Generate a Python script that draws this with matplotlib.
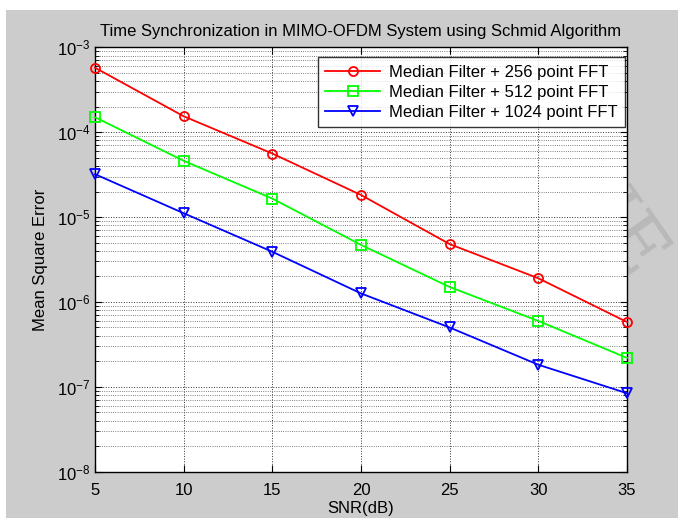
import matplotlib

matplotlib.use("Agg")
import matplotlib.pyplot as plt
from matplotlib.patches import Rectangle
from matplotlib.ticker import LogLocator, NullFormatter

snr_db = [5, 10, 15, 20, 25, 30, 35]
mse_256 = [5.75e-4, 1.54e-4, 5.6e-5, 1.82e-5, 4.8e-6, 1.9e-6, 5.8e-7]
mse_512 = [1.50e-4, 4.6e-5, 1.65e-5, 4.7e-6, 1.50e-6, 5.97e-7, 2.19e-7]
mse_1024 = [3.2e-5, 1.11e-5, 3.9e-6, 1.26e-6, 5.0e-7, 1.82e-7, 8.4e-8]

labels = [
    "Median Filter + 256 point FFT",
    "Median Filter + 512 point FFT",
    "Median Filter + 1024 point FFT",
]
x_ticks = [5, 10, 15, 20, 25, 30, 35]

plt.rcParams.update(
    {
        "font.family": ["Liberation Sans", "DejaVu Sans"],
        "mathtext.fontset": "custom",
        "mathtext.rm": "Liberation Sans",
        "mathtext.it": "Liberation Sans",
        "axes.unicode_minus": False,
    }
)

W, H = 680, 518
fig = plt.figure(figsize=(W / 100, H / 100), dpi=100, facecolor="white")
# grey MATLAB-style figure background, inset from top/left edges
fig.patches.append(
    Rectangle((6 / W, 0), 672 / W, (H - 10) / H, transform=fig.transFigure,
              facecolor="#cccccc", edgecolor="none", zorder=0)
)
# faint watermark on the right border, partly hidden by the axes
fig.text(615 / W, 1 - 225 / H, "IJE", family="DejaVu Serif", fontsize=54,
         color="#b4b4b4", alpha=0.8, rotation=-55, ha="center", va="center",
         zorder=0.5)

ax = fig.add_axes([95 / W, 1 - 471.7 / H, 532 / W, 424.4 / H])
ax.set_zorder(2)
ax.set_facecolor("white")

series = [
    (mse_256, "#ff0000", "o"),
    (mse_512, "#00ff00", "s"),
    (mse_1024, "#0000ff", "v"),
]
for label, (data, color, marker) in zip(labels, series):
    ax.plot(snr_db, data, color=color, marker=marker, markersize=6.5,
            markerfacecolor="none", markeredgewidth=1.3, linewidth=1.3,
            label=label, clip_on=False, zorder=3)

ax.set_yscale("log")
ax.set_xlim(5, 35)
ax.set_ylim(1e-8, 1e-3)
ax.set_xticks(x_ticks)
ax.yaxis.set_major_locator(LogLocator(base=10, numticks=10))
ax.yaxis.set_minor_locator(LogLocator(base=10, subs=range(2, 10), numticks=20))
ax.yaxis.set_minor_formatter(NullFormatter())

ax.grid(True, which="major", axis="both", color="#333333", linestyle=":", linewidth=0.7)
ax.grid(True, which="minor", axis="y", color="#555555", linestyle=":", linewidth=0.6)
ax.set_axisbelow(True)

ax.tick_params(which="both", direction="in", top=True, right=True, colors="black",
               labelsize=12)
ax.tick_params(which="major", length=5, width=0.8)
ax.tick_params(which="minor", length=3, width=0.6)
ax.tick_params(axis="x", pad=8)
for spine in ax.spines.values():
    spine.set_linewidth(1.0)
    spine.set_color("black")

ax.set_xlabel("SNR(dB)", fontsize=12, labelpad=2)
ax.set_ylabel("Mean Square Error", fontsize=12, labelpad=6)
ax.set_title("Time Synchronization in MIMO-OFDM System using Schmid Algorithm",
             fontsize=12, pad=8)

leg = ax.legend(loc="upper right", bbox_to_anchor=(0.996, 0.977), fontsize=12,
                handlelength=3.3, frameon=True, fancybox=False, edgecolor="black",
                borderpad=0.45, labelspacing=0.3, handletextpad=0.5,
                borderaxespad=0.0)
leg.get_frame().set_linewidth(1.0)
leg.set_zorder(5)

fig.savefig("out.png", dpi=100, facecolor=fig.get_facecolor())
